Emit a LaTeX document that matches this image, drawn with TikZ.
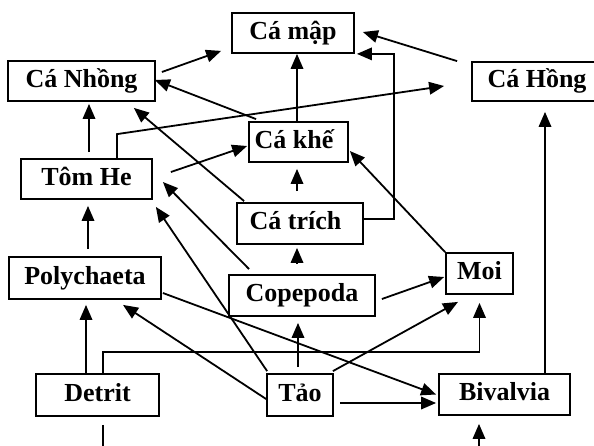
\documentclass[tikz,border=0pt]{standalone}
\usepackage{fontspec}
\setmainfont{Liberation Serif}
\usetikzlibrary{arrows.meta}

\begin{document}
\begin{tikzpicture}[
  x=1pt, y=-1pt,
  box/.style={draw, line width=1.8pt, inner sep=0pt, text height=17pt, text depth=5pt,
    font=\fontsize{26}{30}\selectfont\bfseries},
  link/.style={line width=1.8pt},
  arr/.style={link, -{Triangle[length=15pt,width=12.5pt]}}
]
\fill[white] (0,0) rectangle (594,445);
\useasboundingbox (0,0) rectangle (594,445);

% organisms and food sources
\node[box, minimum width=122pt, minimum height=40pt] (mapp)   at (293,33)    {Cá mập};
\node[box, minimum width=147pt, minimum height=40pt] (nhong)  at (81.5,81)   {Cá Nhồng};
\node[box, minimum width=130pt, minimum height=39pt] (hong)   at (537,81.5)  {Cá Hồng};
\node[box, minimum width=99pt,  minimum height=40pt] (khe)    at (298.5,142) {Cá khế\kern9pt};
\node[box, minimum width=131pt, minimum height=40pt] (tom)    at (86.5,179)  {Tôm He};
\node[box, minimum width=126pt, minimum height=41pt] (trich)  at (300,223.5) {Cá trích\kern9pt};
\node[box, minimum width=152pt, minimum height=42pt] (poly)   at (85,278)    {Polychaeta};
\node[box, minimum width=146pt, minimum height=41pt] (cope)   at (302,295.5) {Copepoda};
\node[box, minimum width=67pt,  minimum height=41pt] (moi)    at (479.5,273.5) {Moi};
\node[box, minimum width=123pt, minimum height=42pt] (detrit) at (97.5,395)  {Detrit};
\node[box, minimum width=66pt,  minimum height=42pt] (tao)    at (300,395)   {Tảo};
\node[box, minimum width=131pt, minimum height=41pt] (biv)    at (504.5,394.5) {Bivalvia};

% loose ends leaving the bottom edge
\coordinate (dout) at (103,452);
\coordinate (bin)  at (479,452);

% feeding links
\draw[arr] ([shift={(6,-9)}]nhong.east) -- ([shift={(-10,-3)}]mapp.south west);
\draw[arr] ([shift={(-14,0)}]hong.north west) -- ([shift={(8,-1)}]mapp.east);
\draw[arr] ([shift={(-1.5,0)}]khe.north) -- ([shift={(4,0)}]mapp.south);
\draw[arr] ([shift={(0,-4.5)}]trich.east) -| ([shift={(39,0)}]mapp.south east) -- ([shift={(2,0)}]mapp.south east);
\draw[arr] ([shift={(8,-2)}]khe.north west) -- ([shift={(-1,-1)}]nhong.east);
\draw[arr] ([shift={(30.5,0)}]tom.north) -- ++(0,-24) -- ([shift={(-27,4.5)}]hong.west);
\draw[arr] ([shift={(18,-7)}]tom.east) -- ([shift={(-1,4)}]khe.west);
\draw[arr] ([shift={(2.5,-6)}]tom.north) -- ([shift={(2.5,2)}]nhong.south -| tom.north);
\draw[arr] ([shift={(-3,-11)}]trich.north) -- ([shift={(-1.5,6)}]khe.south);
\draw[arr] ([shift={(8,-1)}]trich.north west) -- ([shift={(-22,6)}]nhong.south east);
\draw[arr] ([shift={(-5,-10)}]cope.north) -- ([shift={(-3,3)}]trich.south);
\draw[arr] ([shift={(21,-5)}]cope.north west) -- ([shift={(10,3)}]tom.east);
\draw[arr] ([shift={(1,-2)}]tao.north west) -- ([shift={(3,7)}]tom.south east);
\draw[arr] ([shift={(6,3.5)}]cope.east) -- ([shift={(-1,3.5)}]moi.west);
\draw[arr] (moi.north west) -- ([shift={(1,9)}]khe.east);
\draw[arr] ([shift={(3,-7)}]poly.north) -- ([shift={(1.5,6)}]tom.south);
\draw[arr] ([shift={(-11.5,0)}]detrit.north) -- ([shift={(1,5)}]poly.south);
\draw[arr] ([shift={(0,4)}]tao.west) -- ([shift={(38,5)}]poly.south);
\draw[arr] ([shift={(1,15)}]poly.east) -- ([shift={(-2,0)}]biv.west);
\draw[arr] ([shift={(5.5,0)}]detrit.north) |- ([shift={(0,57)}]moi.south) -- ([shift={(0,8)}]moi.south);
\draw[arr] ([shift={(-2,-6)}]tao.north) -- ([shift={(-4,6)}]cope.south);
\draw[arr] ([shift={(-1,-2)}]tao.north east) -- ([shift={(-21.5,7)}]moi.south);
\draw[arr] ([shift={(6,8)}]tao.east) -- ([shift={(-2,8.5)}]biv.west);
\draw[arr] ([shift={(40.5,0)}]biv.north) -- ([shift={(8,10)}]hong.south);
\draw[link] ([shift={(5.5,8)}]detrit.south) -- (dout);
\draw[arr] (bin) -- ([shift={(-25.5,8)}]biv.south);
\end{tikzpicture}
\end{document}
